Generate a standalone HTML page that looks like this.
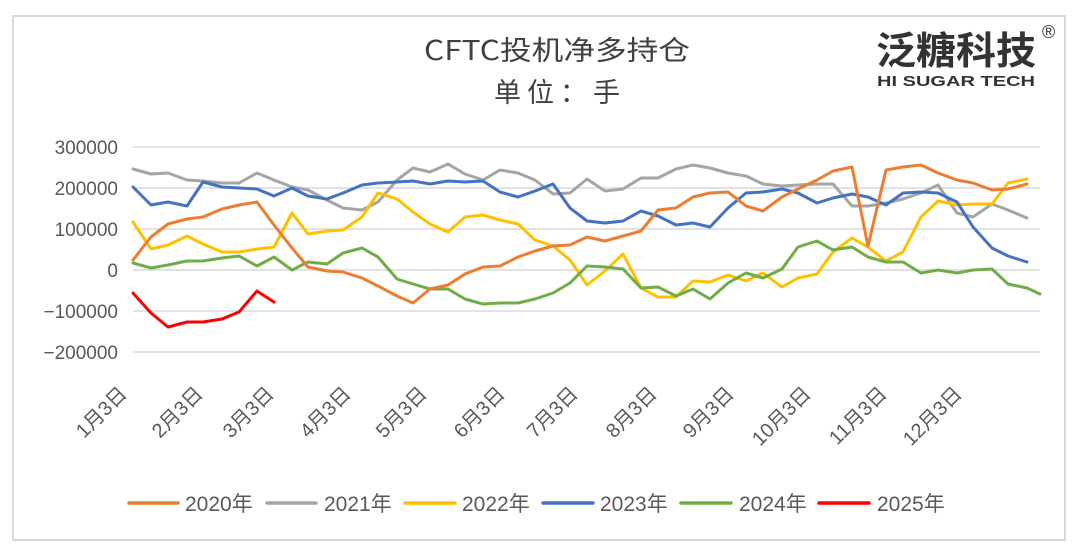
<!DOCTYPE html>
<html><head><meta charset="utf-8"><style>
html,body{margin:0;padding:0;background:#fff;}
svg{display:block;}
text{font-family:"Liberation Sans","Noto Sans CJK SC",sans-serif;}
</style></head><body>
<svg width="1080" height="551" viewBox="0 0 1080 551" xmlns="http://www.w3.org/2000/svg">
<rect x="0" y="0" width="1080" height="551" fill="#fff"/>
<rect x="13" y="16" width="1052" height="524" fill="#fff" stroke="#d9d9d9" stroke-width="2"/>
<text x="557" y="60" text-anchor="middle" font-size="27" fill="#404040" style="font-family:'Noto Sans CJK SC',sans-serif" textLength="266" lengthAdjust="spacingAndGlyphs">CFTC投机净多持仓</text>
<text x="560" y="102" text-anchor="middle" font-size="27" fill="#404040" style="font-family:'Noto Sans CJK SC',sans-serif" letter-spacing="6">单位：手</text>
<text x="876" y="64" font-size="38" font-weight="bold" fill="#333" style="font-family:'Noto Sans CJK SC',sans-serif" textLength="160" lengthAdjust="spacingAndGlyphs">泛糖科技</text>
<text x="1042" y="38" font-size="18" fill="#333">®</text>
<text x="877" y="86" font-size="15" font-weight="bold" fill="#333" textLength="158" lengthAdjust="spacingAndGlyphs">HI SUGAR TECH</text>
<g stroke="#d9d9d9" stroke-width="1.5">
<line x1="133" y1="147" x2="1040" y2="147"/>
<line x1="133" y1="188" x2="1040" y2="188"/>
<line x1="133" y1="229" x2="1040" y2="229"/>
<line x1="133" y1="270" x2="1040" y2="270"/>
<line x1="133" y1="311" x2="1040" y2="311"/>
<line x1="133" y1="352" x2="1040" y2="352"/>
</g>
<g font-size="19" fill="#595959" text-anchor="end">
<text x="118" y="154">300000</text>
<text x="118" y="195">200000</text>
<text x="118" y="236">100000</text>
<text x="118" y="277">0</text>
<text x="118" y="318">−100000</text>
<text x="118" y="359">−200000</text>
</g>
<g font-size="20" fill="#595959" text-anchor="end">
<text transform="translate(128,395) rotate(-45)">1月3日</text>
<text transform="translate(204,395) rotate(-45)">2月3日</text>
<text transform="translate(275,395) rotate(-45)">3月3日</text>
<text transform="translate(352,395) rotate(-45)">4月3日</text>
<text transform="translate(428,395) rotate(-45)">5月3日</text>
<text transform="translate(506,395) rotate(-45)">6月3日</text>
<text transform="translate(579,395) rotate(-45)">7月3日</text>
<text transform="translate(658,395) rotate(-45)">8月3日</text>
<text transform="translate(735,395) rotate(-45)">9月3日</text>
<text transform="translate(812,395) rotate(-45)">10月3日</text>
<text transform="translate(888,395) rotate(-45)">11月3日</text>
<text transform="translate(963,395) rotate(-45)">12月3日</text>
</g>
<g fill="none" stroke-width="3" stroke-linejoin="round" stroke-linecap="round">
<polyline stroke="#a5a5a5" points="133,169 151,174 168,173 187,180 203,181 222,183 239,183 257,173 274,180 292,187 308,190 327,200 343,208 362,210 378,202 397,180 413,168 430,172 448,164 465,174 483,180 500,170 518,173 535,180 553,194 570,193 587,179 605,191 623,189 641,178 658,178 676,169 693,165 710,168 728,173 746,176 763,184 782,186 798,185 817,184 833,184 852,206 868,206 886,203 903,199 921,193 938,185 957,213 973,217 992,204 1008,210 1027,218"/>
<polyline stroke="#ffc000" points="133,222 151,249 168,245 187,236 203,244 222,252 239,252 257,249 274,247 292,213 308,234 327,231 343,230 362,217 378,193 397,199 413,212 430,224 448,232 465,217 483,215 500,220 518,224 535,240 553,246 570,260 587,285 605,271 623,254 641,288 658,297 676,297 693,281 710,282 728,275 746,281 763,273 782,287 798,278 817,274 833,252 852,238 868,247 886,261 903,252 921,217 938,201 957,205 973,204 992,204 1008,183 1027,179"/>
<polyline stroke="#70ad47" points="133,263 151,268 168,265 187,261 203,261 222,258 239,256 257,266 274,257 292,270 308,262 327,264 343,253 362,248 378,257 397,279 413,284 430,289 448,289 465,299 483,304 500,303 518,303 535,299 553,293 570,283 587,266 605,267 623,269 641,288 658,287 676,296 693,289 710,299 728,283 746,273 763,278 782,269 798,247 817,241 833,250 852,247 868,257 886,262 903,262 921,273 938,270 957,273 973,270 992,269 1008,284 1027,288 1040,294"/>
<polyline stroke="#4472c4" points="133,187 151,205 168,202 187,206 203,182 222,187 239,188 257,189 274,196 292,188 308,196 327,199 343,193 362,185 378,183 397,182 413,181 430,184 448,181 465,182 483,181 500,192 518,197 535,191 553,184 570,208 587,221 605,223 623,221 641,211 658,216 676,225 693,223 710,227 728,208 746,193 763,192 782,189 798,193 817,203 833,198 852,194 868,197 886,205 903,193 921,192 938,193 957,202 973,227 992,248 1008,256 1027,262"/>
<polyline stroke="#ed7d31" points="133,260 151,237 168,224 187,219 203,217 222,209 239,205 257,202 274,225 292,248 308,267 327,271 343,272 362,278 378,286 397,296 413,303 430,289 448,285 465,274 483,267 500,266 518,257 535,251 553,246 570,245 587,237 605,241 623,236 641,231 658,210 676,208 693,197 710,193 728,192 746,206 763,211 782,197 798,189 817,180 833,171 852,167 868,246 886,170 903,167 921,165 938,173 957,180 973,183 992,190 1008,189 1027,184"/>
<polyline stroke="#ff0000" points="133,293 151,313 168,327 187,322 203,322 222,319 239,312 257,291 274,302"/>
</g>
<g stroke-width="3.5" stroke-linecap="round">
<line x1="129" y1="503" x2="178" y2="503" stroke="#ed7d31"/>
<line x1="267" y1="503" x2="316" y2="503" stroke="#a5a5a5"/>
<line x1="405" y1="503" x2="455" y2="503" stroke="#ffc000"/>
<line x1="543" y1="503" x2="593" y2="503" stroke="#4472c4"/>
<line x1="681" y1="503" x2="731" y2="503" stroke="#70ad47"/>
<line x1="819" y1="503" x2="869" y2="503" stroke="#ff0000"/>
</g>
<g font-size="21" fill="#595959">
<text x="185" y="511">2020年</text>
<text x="324" y="511">2021年</text>
<text x="462" y="511">2022年</text>
<text x="600" y="511">2023年</text>
<text x="739" y="511">2024年</text>
<text x="877" y="511">2025年</text>
</g>
</svg>
</body></html>
